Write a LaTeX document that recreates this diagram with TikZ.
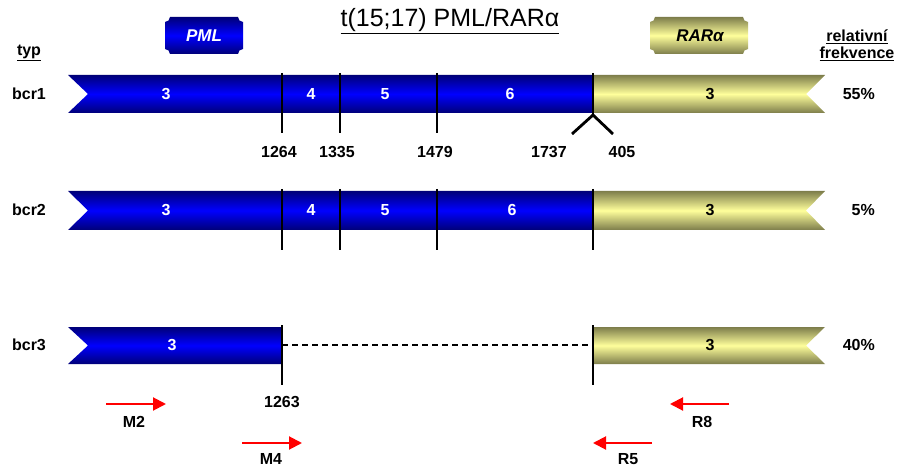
\documentclass[tikz,border=0pt]{standalone}
\usepackage{fontspec}
\setmainfont{Liberation Sans}
\usetikzlibrary{arrows.meta}
\definecolor{bdark}{RGB}{0,0,120}
\definecolor{bmid}{RGB}{0,0,255}
\definecolor{ydark}{RGB}{125,125,75}
\definecolor{ymid}{RGB}{255,255,155}
\begin{document}
\begin{tikzpicture}[x=1pt,y=-1pt,
  bluebar/.style={top color=bdark,bottom color=bdark,middle color=bmid},
  yelbar/.style={top color=ydark,bottom color=ydark,middle color=ymid},
  sep/.style={line width=2.8pt,black},
  lbl/.style={font=\fontsize{16}{18}\selectfont\bfseries,inner sep=0pt},
  wlbl/.style={lbl,text=white},
  pct/.style={lbl,anchor=east},
  gene/.style={font=\fontsize{17}{19}\selectfont\bfseries\itshape,inner sep=0pt},
  primer/.style={red,line width=2pt,-{Triangle[length=13pt,width=13pt]}},
]
\useasboundingbox (0,0) rectangle (898,468);

% title and headers
\node[font=\fontsize{25}{28}\selectfont,inner sep=0pt] (title) at (450,21) {\underline{t(15;17) PML/RARα}};
\node[lbl] (typ) at (29,53) {\underline{typ}};
\node[lbl,align=center] (freq) at (857,45) {\underline{relativní}\\[-1pt]\underline{frekvence}};

% gene boxes
\def\gbox#1#2#3#4{%
  (#1+5,#3) -- (#2-5,#3) .. controls (#2-5,#3+2.75) and (#2-2.75,#3+5) .. (#2,#3+5)
  -- (#2,#4-5) .. controls (#2-2.75,#4-5) and (#2-5,#4-2.75) .. (#2-5,#4)
  -- (#1+5,#4) .. controls (#1+5,#4-2.75) and (#1+2.75,#4-5) .. (#1,#4-5)
  -- (#1,#3+5) .. controls (#1+2.75,#3+5) and (#1+5,#3+2.75) .. (#1+5,#3) -- cycle}
\shade[top color=bdark,bottom color=bdark,middle color=bmid] \gbox{165}{243}{17}{54};
\node[gene,text=white] (pml) at (204,36) {PML};
\shade[top color=ydark,bottom color=ydark,middle color=ymid] \gbox{650}{748}{17}{54};
\node[gene] (rar) at (700,36) {RARα};

% bcr1
\shade[bluebar] (68,75) -- (593,75) -- (593,113) -- (68,113) -- (88,94) -- cycle;
\shade[yelbar] (593,75) -- (825,75) -- (806,94) -- (825,113) -- (593,113) -- cycle;
\node[lbl] (bcr1) at (29,94) {bcr1};
\node[wlbl] (e13) at (166,94) {3};
\node[wlbl] (e14) at (311,94) {4};
\node[wlbl] (e15) at (385,94) {5};
\node[wlbl] (e16) at (510,94) {6};
\node[lbl] (r13) at (710,94) {3};
\node[pct] (p1) at (875,94) {55\%};
\draw[sep] (282,73) -- (282,133);
\draw[sep] (340,73) -- (340,133);
\draw[sep] (437,73) -- (437,133);
\draw[sep,line join=miter] (593,73) -- (593,115);
\draw[sep] (572,134) -- (593,115) -- (613,134);
\node[lbl] (n1264) at (279,152) {1264};
\node[lbl] (n1335) at (337,152) {1335};
\node[lbl] (n1479) at (435,152) {1479};
\node[lbl] (n1737) at (549,152) {1737};
\node[lbl] (n405) at (622,152) {405};

% bcr2
\shade[bluebar] (68,191) -- (593,191) -- (593,230) -- (68,230) -- (88,210.5) -- cycle;
\shade[yelbar] (593,191) -- (825,191) -- (806,210.5) -- (825,230) -- (593,230) -- cycle;
\node[lbl] (bcr2) at (29,210) {bcr2};
\node[wlbl] (e23) at (166,210) {3};
\node[wlbl] (e24) at (311,210) {4};
\node[wlbl] (e25) at (385,210) {5};
\node[wlbl] (e26) at (512,210) {6};
\node[lbl] (r23) at (710,210) {3};
\node[pct] (p2) at (875,210) {5\%};
\draw[sep] (282,189) -- (282,250);
\draw[sep] (340,189) -- (340,250);
\draw[sep] (437,189) -- (437,250);
\draw[sep] (593,189) -- (593,250);

% bcr3
\shade[bluebar] (68,327) -- (282,327) -- (282,364) -- (68,364) -- (88,345.5) -- cycle;
\shade[yelbar] (593,327) -- (825,327) -- (806,345.5) -- (825,364) -- (593,364) -- cycle;
\node[lbl] (bcr3) at (29,345) {bcr3};
\node[wlbl] (e33) at (172,345) {3};
\node[lbl] (r33) at (710,345) {3};
\node[pct] (p3) at (875,345) {40\%};
\coordinate (d1) at (282,345);
\coordinate (d2) at (593,345);
\draw[line width=2pt,dash pattern=on 6pt off 4pt] (d1) -- (d2);
\draw[sep] (282,325) -- (282,385);
\draw[sep] (593,325) -- (593,385);
\node[lbl] (n1263) at (282,402) {1263};

% primers
\coordinate (m2a) at (106,404); \coordinate (m2b) at (166,404);
\coordinate (m4a) at (242,443); \coordinate (m4b) at (302,443);
\coordinate (r8a) at (729,404); \coordinate (r8b) at (670,404);
\coordinate (r5a) at (652,443); \coordinate (r5b) at (593,443);
\draw[primer] (m2a) -- (m2b);
\draw[primer] (m4a) -- (m4b);
\draw[primer] (r8a) -- (r8b);
\draw[primer] (r5a) -- (r5b);
\node[lbl] (m2) at (134,422) {M2};
\node[lbl] (m4) at (271,459) {M4};
\node[lbl] (r8) at (702,422) {R8};
\node[lbl] (r5) at (628,459) {R5};
\end{tikzpicture}
\end{document}
